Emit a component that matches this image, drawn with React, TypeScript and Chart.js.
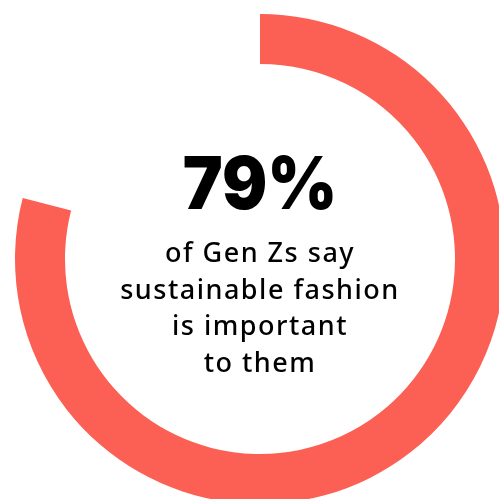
import React, { useEffect, useRef } from "react";
import { Chart, registerables } from "chart.js";

Chart.register(...registerables);

const categories = ["Say sustainable fashion is important", "Other"];
const values = [79, 21];
const colors = ["#FC5F53", "rgba(0,0,0,0)"];
const headline = "79%";
const bodyLines = ["of Gen Zs say", "sustainable fashion", "is important", "to them"];

export default function App() {
  const canvasRef = useRef<HTMLCanvasElement | null>(null);

  useEffect(() => {
    const canvas = canvasRef.current;
    if (!canvas) return;
    const chart = new Chart(canvas, {
      type: "doughnut",
      data: {
        labels: categories,
        datasets: [
          {
            data: values,
            backgroundColor: colors,
            borderWidth: 0,
            hoverOffset: 0,
          },
        ],
      },
      options: {
        responsive: false,
        animation: false,
        cutout: "79.6%",
        rotation: 0,
        layout: { padding: 6 },
        plugins: {
          legend: { display: false },
          tooltip: { enabled: false },
        },
      },
    });
    return () => chart.destroy();
  }, []);

  return (
    <div
      style={{
        position: "fixed",
        left: 0,
        top: 0,
        width: 499,
        height: 499,
        overflow: "hidden",
        background: "#fff",
      }}
    >
      <canvas
        ref={canvasRef}
        width={504}
        height={502}
        style={{ position: "absolute", left: 8, top: 8, width: 504, height: 502 }}
      />
      <div
        style={{
          position: "absolute",
          left: 0,
          width: 520,
          top: 146,
          textAlign: "center",
          fontFamily: "Inter, sans-serif",
          fontWeight: 900,
          fontSize: 73,
          lineHeight: "73px",
          color: "#000",
          letterSpacing: 0,
          transform: "scaleX(0.92)",
        }}
      >
        {headline}
      </div>
      {bodyLines.map((t, i) => (
        <div
          key={i}
          style={{
            position: "absolute",
            left: 0,
            width: 520,
            top: 234 + i * 36.5,
            textAlign: "center",
            fontFamily: "'Noto Sans', sans-serif",
            fontWeight: 500,
            fontSize: 27,
            lineHeight: "36.5px",
            color: "#000",
            letterSpacing: 1.5,
            whiteSpace: "nowrap",
          }}
        >
          {t}
        </div>
      ))}
    </div>
  );
}
